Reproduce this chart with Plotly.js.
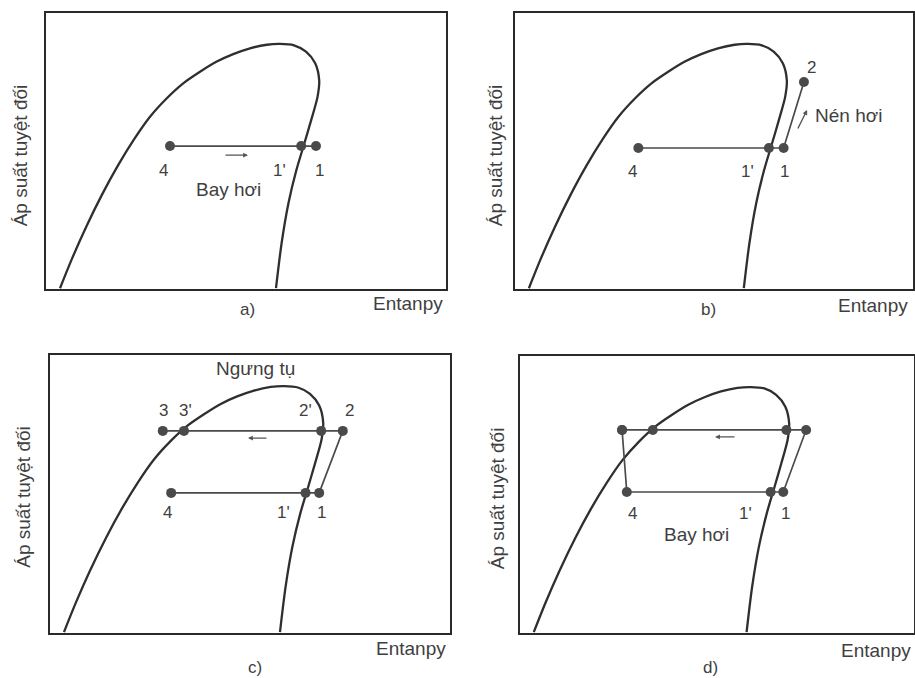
<!DOCTYPE html>
<html><head><meta charset="utf-8">
<script src="https://cdn.plot.ly/plotly-3.0.1.min.js"></script>
<style>html,body{margin:0;padding:0;background:#fff}#chart{width:915px;height:678px}</style>
</head><body><div id="chart"></div>
<script>
// Saturation dome (enthalpy, pressure) in relative units 0-100
const domeX = [3.5, 6.5, 10.0, 14.0, 18.0, 22.0, 26.0, 30.2, 34.3, 38.5, 42.7, 46.8, 51.0, 55.2, 58.5, 62.0, 65.0, 67.3, 68.3, 67.9, 66.3, 64.6, 62.6, 60.6, 58.9, 57.5];
const domeY = [0.3, 11.0, 22.4, 34.2, 44.8, 54.2, 62.4, 69.1, 74.5, 78.7, 82.4, 85.1, 87.2, 88.5, 88.8, 88.3, 86.0, 81.8, 75.7, 69.7, 61.2, 52.8, 43.1, 31.0, 16.6, 0.3];

// Panel a: evaporation 4 -> 1' -> 1
const aLabels = ["4", "1'", "1"];
const aX = [31.0, 63.8, 67.5];
const aY = [51.8, 51.8, 51.8];

// Panel b: + compression 1 -> 2
const bLabels = ["4", "1'", "1", "2"];
const bX = [31.0, 63.8, 67.5, 72.6];
const bY = [51.1, 51.1, 51.1, 75.0];

// Panel c: 3 - 3' - 2' - 2 - 1 - 1' - 4
const cLabels = ["3", "3'", "2'", "2", "1", "1'", "4"];
const cX = [28.2, 33.5, 67.8, 73.2, 67.3, 63.9, 30.3];
const cY = [72.7, 72.7, 72.7, 72.7, 50.4, 50.4, 50.4];

// Panel d: closed cycle 3 - 3' - 2' - 2 - 1 - 1' - 4 - 3
const dLabels = ["3", "3'", "2'", "2", "1", "1'", "4", "3"];
const dX = [25.9, 33.7, 67.6, 72.6, 66.8, 63.6, 27.1, 25.9];
const dY = [73.3, 73.3, 73.3, 73.3, 50.9, 50.9, 50.9, 73.3];

const xTitle = "Entanpy";
const yTitle = "Áp suất tuyệt đối";
const panelNames = ["a)", "b)", "c)", "d)"];

const lineCol = "#2f2f2f";
const cycCol = "#4a4a4a";
const markCol = "#4a4a4a";
const FONT = "Liberation Sans, Arial, sans-serif";
const TXT = "#3f3f3f";

const axSuffix = ["", "2", "3", "4"];
const traces = [];
const cycles = [[aX, aY], [bX, bY], [cX, cY], [dX, dY]];
cycles.forEach((c, i) => {
  const xa = "x" + axSuffix[i], ya = "y" + axSuffix[i];
  traces.push({x: domeX, y: domeY, xaxis: xa, yaxis: ya, mode: "lines",
    line: {color: lineCol, width: 2.3, shape: "spline", smoothing: 0.8}, hoverinfo: "skip", showlegend: false});
  traces.push({x: c[0], y: c[1], xaxis: xa, yaxis: ya, mode: "lines+markers",
    line: {color: cycCol, width: 1.7}, marker: {color: markCol, size: 10}, hoverinfo: "skip", showlegend: false});
});

function ax(dom) {
  return {domain: dom, range: [0, 100], showgrid: false, zeroline: false, showticklabels: false, ticks: "",
    showline: true, mirror: true, linecolor: "#2a2a2a", linewidth: 1.7, fixedrange: true};
}

const layout = {
  width: 915, height: 678, margin: {l: 0, r: 0, t: 0, b: 0},
  paper_bgcolor: "#ffffff", plot_bgcolor: "#ffffff", showlegend: false,
  font: {family: FONT, color: TXT},
  xaxis: Object.assign(ax([0.0503, 0.4874]), {anchor: "y"}),
  yaxis: Object.assign(ax([0.5737, 0.9808]), {anchor: "x"}),
  xaxis2: Object.assign(ax([0.5628, 0.9978]), {anchor: "y2"}),
  yaxis2: Object.assign(ax([0.5737, 0.9808]), {anchor: "x2"}),
  xaxis3: Object.assign(ax([0.0546, 0.4918]), {anchor: "y3"}),
  yaxis3: Object.assign(ax([0.0664, 0.4764]), {anchor: "x3"}),
  xaxis4: Object.assign(ax([0.5683, 0.999]), {anchor: "y4"}),
  yaxis4: Object.assign(ax([0.0664, 0.4749]), {anchor: "x4"}),
  annotations: []
};

const A = layout.annotations;
function lab(t, x, y, xref, yref, size) {
  A.push({text: t, x: x, y: y, xref: xref, yref: yref, showarrow: false,
    font: {family: FONT, size: size || 17, color: TXT}, xanchor: "center", yanchor: "middle"});
}
function arr(x, y, axv, ayv, s) {
  A.push({x: x, y: y, ax: axv, ay: ayv, xref: "x" + s, yref: "y" + s, axref: "x" + s, ayref: "y" + s,
    showarrow: true, arrowhead: 2, arrowsize: 0.7, arrowwidth: 1.4, arrowcolor: "#555", text: ""});
}

// Panel a
lab("4", 29.3, 43.1, "x", "y");
lab("1'", 58.5, 43.1, "x", "y");
lab("1", 68.3, 43.1, "x", "y");
lab("Bay hơi", 45.5, 35.9, "x", "y", 19);
arr(50.5, 48.5, 44.5, 48.5, "");
// Panel b
lab("4", 29.6, 42.4, "x2", "y2");
lab("1'", 58.5, 42.4, "x2", "y2");
lab("1", 67.8, 42.4, "x2", "y2");
lab("2", 74.6, 80.4, "x2", "y2");
A.push({text: "Nén hơi", x: 74.8, y: 62.7, xref: "x2", yref: "y2", showarrow: false, xanchor: "left", yanchor: "middle",
  font: {family: FONT, size: 19, color: TXT}});
arr(73.4, 64.9, 70.9, 57.6, "2");
// Panel c
lab("3", 28.3, 79.9, "x3", "y3");
lab("3'", 34.0, 79.9, "x3", "y3");
lab("2'", 64.0, 79.9, "x3", "y3");
lab("2", 74.8, 79.9, "x3", "y3");
lab("Ngưng tụ", 51.5, 95.3, "x3", "y3", 19);
lab("4", 29.5, 43.2, "x3", "y3");
lab("1'", 58.3, 43.2, "x3", "y3");
lab("1", 68.0, 43.2, "x3", "y3");
arr(49.5, 70.1, 54.5, 70.1, "3");
// Panel d
lab("4", 28.6, 43.0, "x4", "y4");
lab("1'", 57.3, 43.0, "x4", "y4");
lab("1", 67.3, 43.0, "x4", "y4");
lab("Bay hơi", 44.7, 35.4, "x4", "y4", 19);
arr(49.5, 70.8, 54.8, 70.8, "4");

// axis names and panel letters (paper coords)
const xT = [[0.446, 0.553], [0.954, 0.549], [0.449, 0.044], [0.957, 0.041]];
const yT = [[0.0219, 0.771], [0.541, 0.771], [0.026, 0.267], [0.543, 0.265]];
const pT = [[0.270, 0.543], [0.774, 0.543], [0.279, 0.015], [0.777, 0.016]];
for (let i = 0; i < 4; i++) {
  A.push({text: xTitle, x: xT[i][0], y: xT[i][1], xref: "paper", yref: "paper", showarrow: false,
    font: {family: FONT, size: 19, color: TXT}, xanchor: "center", yanchor: "middle"});
  A.push({text: yTitle, x: yT[i][0], y: yT[i][1], xref: "paper", yref: "paper", showarrow: false, textangle: -90,
    font: {family: FONT, size: 19, color: TXT}, xanchor: "center", yanchor: "middle"});
  A.push({text: panelNames[i], x: pT[i][0], y: pT[i][1], xref: "paper", yref: "paper", showarrow: false,
    font: {family: FONT, size: 17, color: TXT}, xanchor: "center", yanchor: "middle"});
}

Plotly.newPlot("chart", traces, layout, {staticPlot: true, displayModeBar: false});
</script>
</body></html>
